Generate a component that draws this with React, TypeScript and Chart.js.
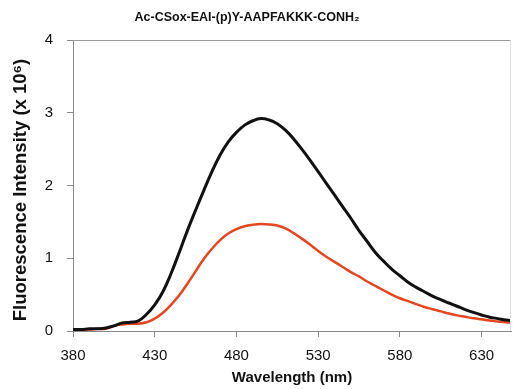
import React, { useEffect, useRef } from "react";
import { Chart, registerables } from "chart.js";

Chart.register(...registerables);

const chartTitle = "Ac-CSox-EAI-(p)Y-AAPFAKKK-CONH₂";
const xTitle = "Wavelength (nm)";
const yTitle = "Fluorescence Intensity (x 10⁶)";

const wavelengths = [
  380, 385, 390, 395, 400, 405, 410, 415, 420, 425, 430, 435, 440, 445, 450,
  455, 460, 465, 470, 475, 480, 485, 490, 495, 500, 505, 510, 515, 520, 525,
  530, 535, 540, 545, 550, 555, 560, 565, 570, 575, 580, 585, 590, 595, 600,
  605, 610, 615, 620, 625, 630, 635, 640, 645, 650,
];

const blackSeries = [
  0.02, 0.02, 0.03, 0.03, 0.04, 0.07, 0.11, 0.12, 0.14, 0.23, 0.36, 0.54, 0.79, 1.08, 1.38,
  1.66, 1.93, 2.19, 2.42, 2.6, 2.73, 2.83, 2.89, 2.92, 2.9, 2.85, 2.76, 2.64, 2.5, 2.35,
  2.19, 2.03, 1.87, 1.71, 1.55, 1.38, 1.23, 1.08, 0.96, 0.85, 0.76, 0.67, 0.6, 0.54, 0.48,
  0.43, 0.385, 0.34, 0.295, 0.255, 0.22, 0.19, 0.17, 0.15, 0.135,
];

const redSeries = [
  0.02, 0.02, 0.02, 0.03, 0.03, 0.07, 0.09, 0.1, 0.1, 0.12, 0.17, 0.25, 0.36, 0.49, 0.65,
  0.82, 0.99, 1.13, 1.25, 1.34, 1.4, 1.44, 1.46, 1.47, 1.465, 1.45, 1.41, 1.345, 1.27, 1.19,
  1.1, 1.02, 0.95, 0.88, 0.81, 0.75, 0.68, 0.62, 0.56, 0.5, 0.45, 0.41, 0.37, 0.33, 0.3,
  0.27, 0.24, 0.215, 0.195, 0.175, 0.16, 0.145, 0.13, 0.12, 0.11,
];

const xTickValues = [380, 430, 480, 530, 580, 630];
const yTickValues = [0, 1, 2, 3, 4];
const xMin = 380;
const xMax = 648;
const yMin = 0;
const yMax = 4;

const FONT = '"Liberation Sans", Arial, sans-serif';

const framePlugin = {
  id: "frameAndTitle",
  afterDraw(chart: any) {
    const { ctx, chartArea } = chart;
    const { left, right, top, bottom } = chartArea;
    ctx.save();
    ctx.strokeStyle = "#9a9a9a";
    ctx.lineWidth = 1;
    ctx.beginPath();
    ctx.moveTo(left, top + 0.5);
    ctx.lineTo(right, top + 0.5);
    ctx.stroke();
    ctx.strokeStyle = "#e2e2e2";
    ctx.beginPath();
    ctx.moveTo(right - 0.5, top);
    ctx.lineTo(right - 0.5, bottom);
    ctx.stroke();
    ctx.fillStyle = "#111";
    ctx.textAlign = "center";
    ctx.textBaseline = "middle";
    ctx.font = `bold 12.5px ${FONT}`;
    ctx.fillText(chartTitle, 247, 18);
    ctx.translate(21, 190);
    ctx.rotate(-Math.PI / 2);
    ctx.font = `bold 18.5px ${FONT}`;
    ctx.fillText(yTitle, 0, 0);
    ctx.restore();
  },
};

export default function App() {
  const canvasRef = useRef<HTMLCanvasElement | null>(null);

  useEffect(() => {
    const canvas = canvasRef.current;
    if (!canvas) return;
    const chart = new Chart(canvas, {
      type: "line",
      data: {
        datasets: [
          {
            label: "black",
            data: wavelengths.map((w, i) => ({ x: w, y: blackSeries[i] })),
            borderColor: "#111111",
            borderWidth: 3,
            pointRadius: 0,
            tension: 0.4,
            fill: false,
          },
          {
            label: "red",
            data: wavelengths.map((w, i) => ({ x: w, y: redSeries[i] })),
            borderColor: "#e4461f",
            borderWidth: 2.5,
            pointRadius: 0,
            tension: 0.4,
            fill: false,
          },
        ],
      },
      options: {
        animation: false,
        responsive: false,
        devicePixelRatio: 1,
        layout: { padding: { top: 40, right: 2, left: 0, bottom: 0 } },
        plugins: {
          legend: { display: false },
          title: { display: false },
          tooltip: { enabled: false },
        },
        scales: {
          x: {
            type: "linear",
            min: xMin,
            max: xMax,
            afterBuildTicks: (scale: any) => {
              scale.ticks = xTickValues.map((v) => ({ value: v }));
            },
            afterFit: (scale: any) => {
              scale.height = 58;
            },
            grid: {
              drawOnChartArea: false,
              drawTicks: true,
              tickLength: 6,
              color: "#8a8a8a",
            },
            border: { display: true, color: "#8a8a8a", width: 1 },
            ticks: {
              padding: 10,
              color: "#111",
              font: { family: FONT, size: 15 },
              maxRotation: 0,
            },
            title: {
              display: true,
              text: xTitle,
              color: "#111",
              font: { family: FONT, size: 15, weight: "bold" },
              padding: { top: 0, bottom: 2 },
            },
          },
          y: {
            type: "linear",
            min: yMin,
            max: yMax,
            afterBuildTicks: (scale: any) => {
              scale.ticks = yTickValues.map((v) => ({ value: v }));
            },
            afterFit: (scale: any) => {
              scale.width = 73;
            },
            grid: {
              drawOnChartArea: false,
              drawTicks: true,
              tickLength: 6,
              color: "#8a8a8a",
            },
            border: { display: true, color: "#8a8a8a", width: 1 },
            ticks: {
              padding: 14,
              color: "#111",
              font: { family: FONT, size: 15 },
            },
            title: { display: false },
          },
        },
      },
      plugins: [framePlugin],
    });
    return () => chart.destroy();
  }, []);

  return (
    <div style={{ position: "absolute", left: 0, top: 0, width: 513, height: 389, background: "#fff" }}>
      <canvas ref={canvasRef} width={513} height={389} style={{ display: "block" }} />
    </div>
  );
}
